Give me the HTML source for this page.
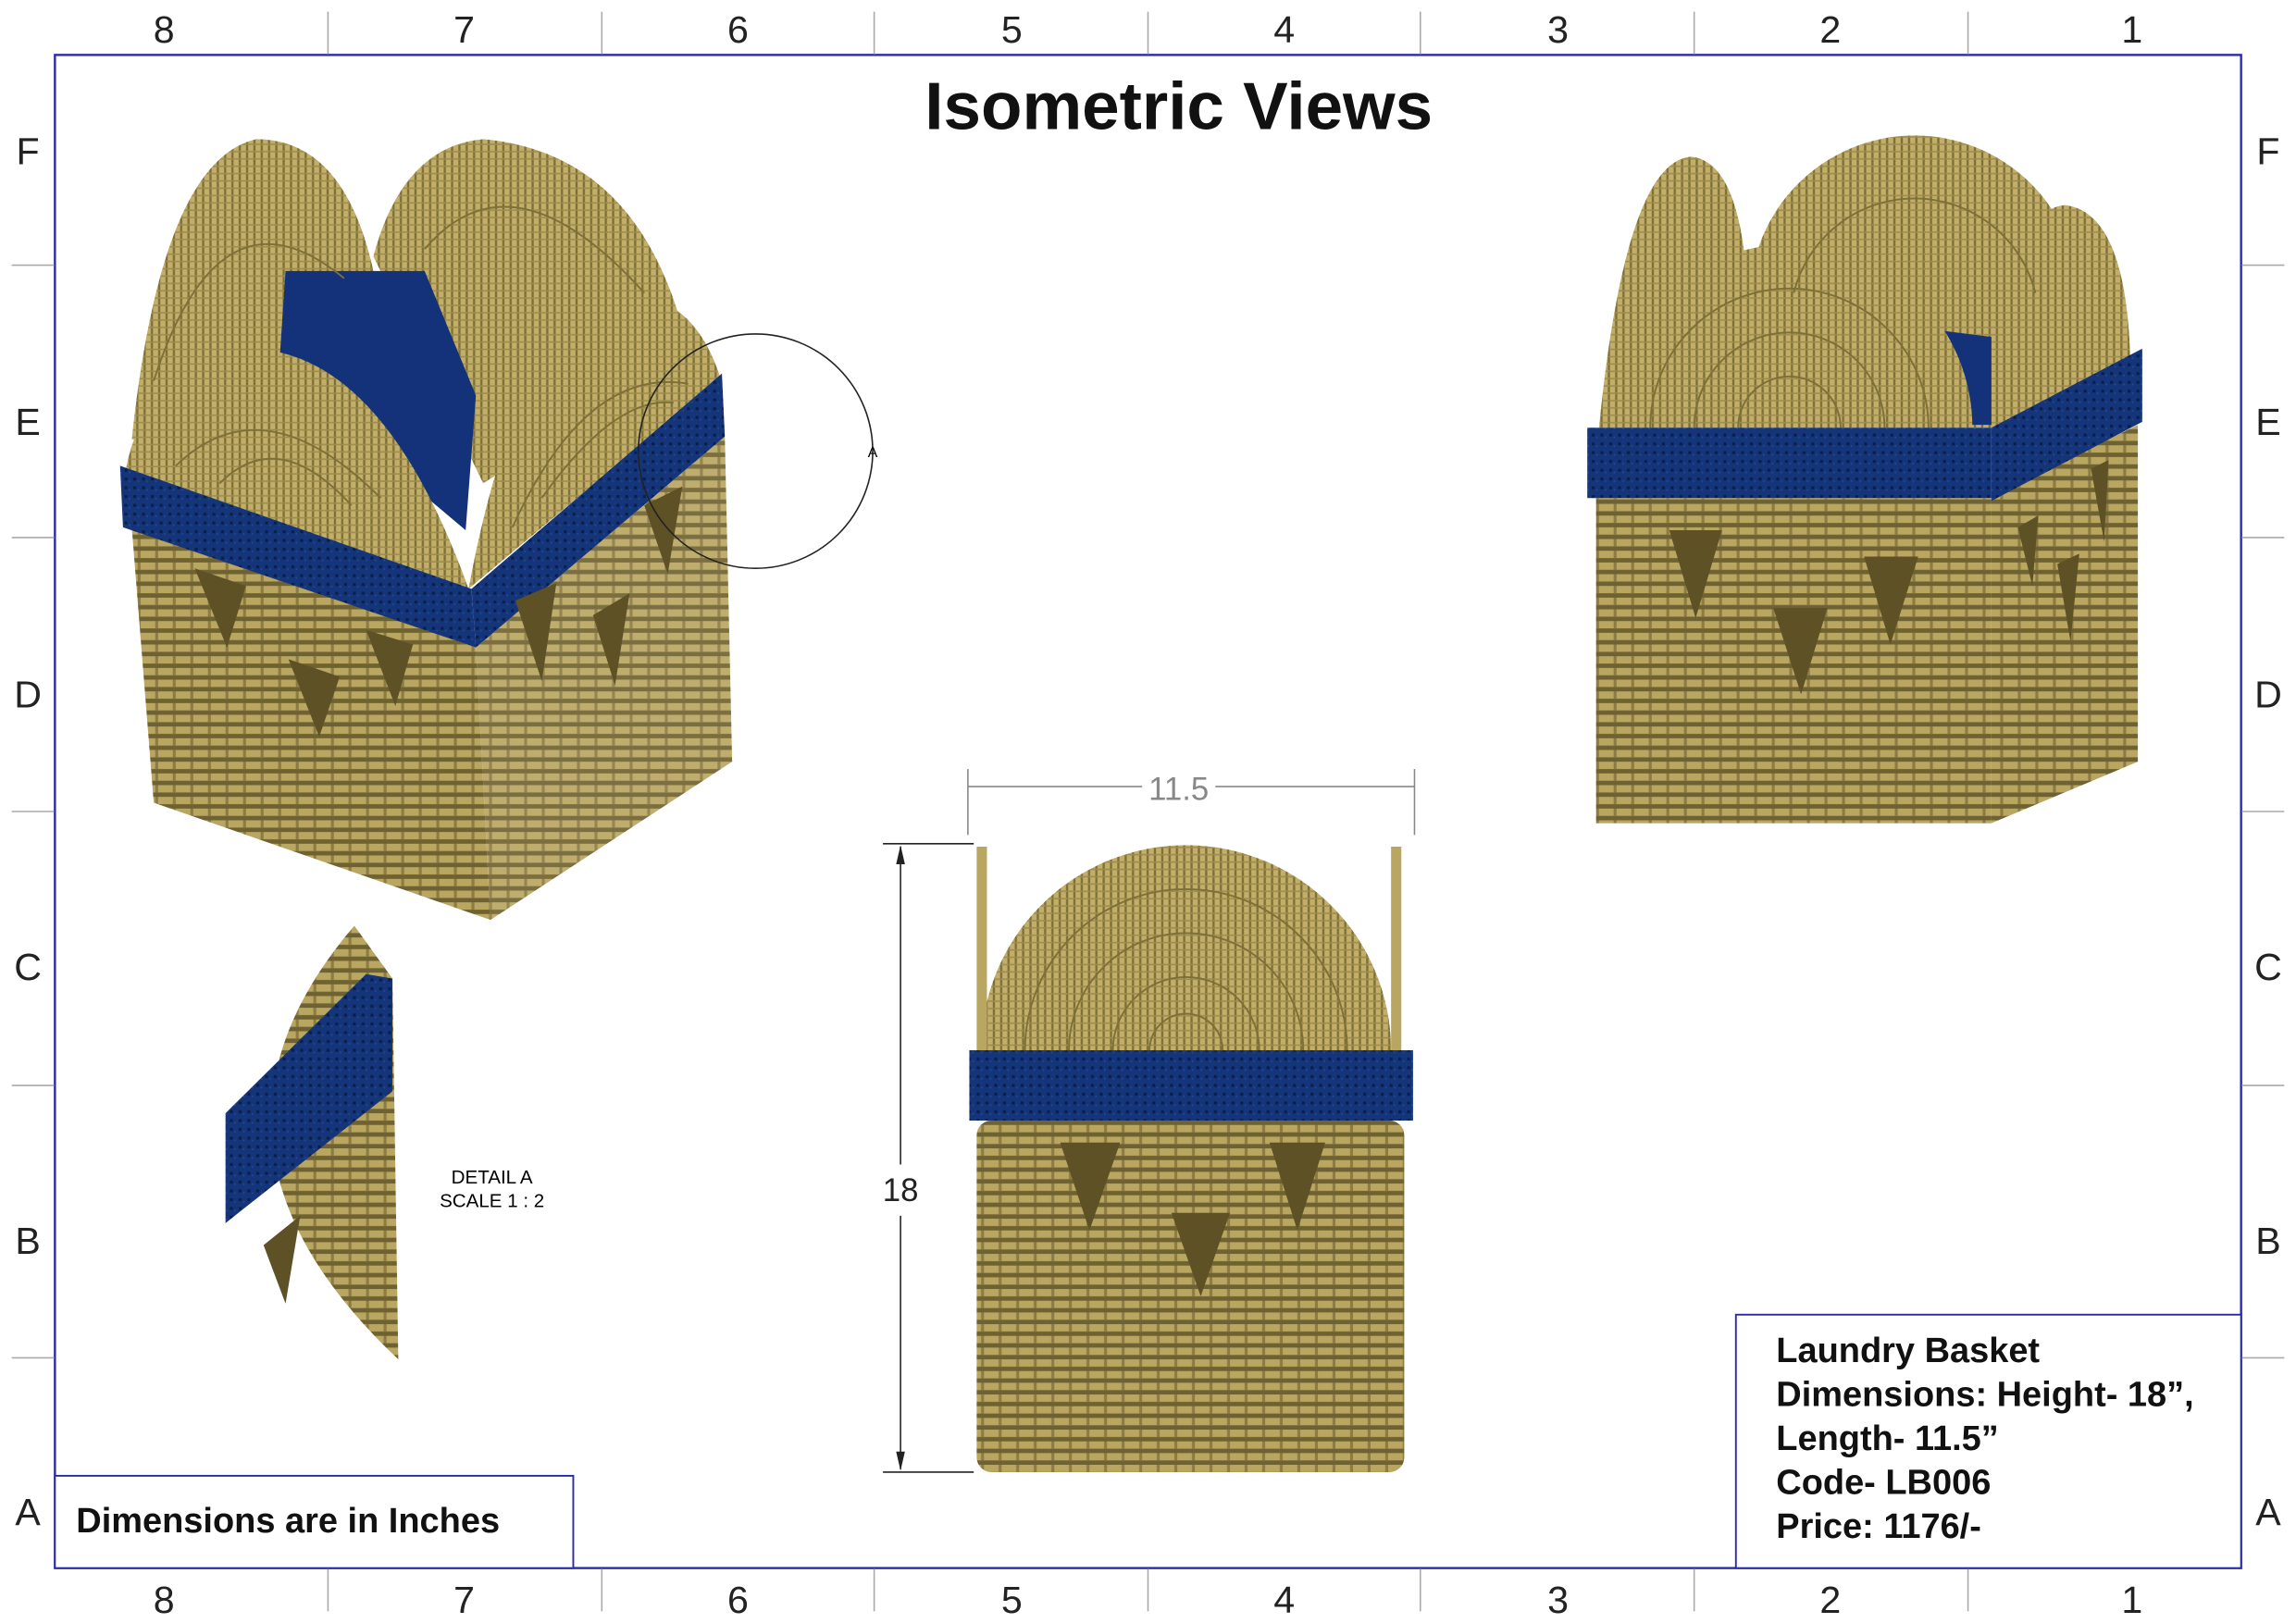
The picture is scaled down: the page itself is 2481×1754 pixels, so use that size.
<!DOCTYPE html>
<html><head><meta charset="utf-8"><style>
html,body{margin:0;padding:0;background:#fff;}
svg{display:block;}
text{font-family:"Liberation Sans",sans-serif;}
</style></head><body>
<svg width="2481" height="1754" viewBox="0 0 1568 1108" preserveAspectRatio="none" xmlns="http://www.w3.org/2000/svg">
<defs>
<pattern id="wv" width="12" height="8" patternUnits="userSpaceOnUse">
<rect width="12" height="8" fill="#b9a661"/>
<rect y="5" width="12" height="3" fill="#6f6232"/>
<rect x="10" width="2" height="5" fill="#8c7c42"/>
</pattern>
<pattern id="bl" width="6" height="6" patternUnits="userSpaceOnUse">
<rect width="6" height="6" fill="#15357a"/>
<rect x="1" y="2" width="2" height="2" fill="#0a1e4a"/>
<rect x="4" y="4" width="1" height="1" fill="#2a4b96"/>
</pattern>
<pattern id="arc" width="5" height="5" patternUnits="userSpaceOnUse">
<rect width="5" height="5" fill="#c2ae68"/>
<rect x="3" y="0" width="1.5" height="5" fill="#7d6f38"/>
<rect x="0" y="3" width="5" height="1" fill="#9d8c4c"/>
</pattern>
</defs>
<rect width="1568" height="1108" fill="#fff"/>
<!-- frame -->
<rect x="37.5" y="37.5" width="1493" height="1033" fill="none" stroke="#2a2aa8" stroke-width="1.5"/>
<g stroke="#aaa" stroke-width="1">
<line x1="224" y1="8" x2="224" y2="37"/><line x1="411" y1="8" x2="411" y2="37"/><line x1="597" y1="8" x2="597" y2="37"/><line x1="784" y1="8" x2="784" y2="37"/><line x1="970" y1="8" x2="970" y2="37"/><line x1="1157" y1="8" x2="1157" y2="37"/><line x1="1344" y1="8" x2="1344" y2="37"/>
<line x1="224" y1="1071" x2="224" y2="1100"/><line x1="411" y1="1071" x2="411" y2="1100"/><line x1="597" y1="1071" x2="597" y2="1100"/><line x1="784" y1="1071" x2="784" y2="1100"/><line x1="970" y1="1071" x2="970" y2="1100"/><line x1="1157" y1="1071" x2="1157" y2="1100"/><line x1="1344" y1="1071" x2="1344" y2="1100"/>
<line x1="8" y1="181" x2="37" y2="181"/><line x1="8" y1="367" x2="37" y2="367"/><line x1="8" y1="554" x2="37" y2="554"/><line x1="8" y1="741" x2="37" y2="741"/><line x1="8" y1="927" x2="37" y2="927"/>
<line x1="1531" y1="181" x2="1560" y2="181"/><line x1="1531" y1="367" x2="1560" y2="367"/><line x1="1531" y1="554" x2="1560" y2="554"/><line x1="1531" y1="741" x2="1560" y2="741"/><line x1="1531" y1="927" x2="1560" y2="927"/>
</g>
<g font-size="26" fill="#222" text-anchor="middle">
<text x="112" y="29">8</text><text x="317" y="29">7</text><text x="504" y="29">6</text><text x="691" y="29">5</text><text x="877" y="29">4</text><text x="1064" y="29">3</text><text x="1250" y="29">2</text><text x="1456" y="29">1</text>
<text x="112" y="1101">8</text><text x="317" y="1101">7</text><text x="504" y="1101">6</text><text x="691" y="1101">5</text><text x="877" y="1101">4</text><text x="1064" y="1101">3</text><text x="1250" y="1101">2</text><text x="1456" y="1101">1</text>
<text x="19" y="112">F</text><text x="19" y="297">E</text><text x="19" y="483">D</text><text x="19" y="669">C</text><text x="19" y="856">B</text><text x="19" y="1041">A</text>
<text x="1549" y="112">F</text><text x="1549" y="297">E</text><text x="1549" y="483">D</text><text x="1549" y="669">C</text><text x="1549" y="856">B</text><text x="1549" y="1041">A</text>
</g>
<text x="805" y="88" font-size="46" font-weight="bold" text-anchor="middle" fill="#111">Isometric Views</text>

<!-- left basket -->
<path d="M90,300 Q110,110 175,95 Q235,95 255,185 L250,300 Z" fill="url(#arc)"/>
<path d="M255,175 Q275,100 330,95 Q440,105 470,240 L330,330 Z" fill="url(#arc)"/>
<polygon points="195,185 290,185 325,270 318,362 280,330 190,260" fill="#13327a"/>
<path d="M86,320 Q100,250 165,238 Q260,235 320,402 Z" fill="url(#arc)"/>
<path d="M320,402 Q350,240 410,205 Q470,190 492,258 Z" fill="url(#arc)"/>
<g fill="none" stroke="#7d6f38" stroke-width="1.2">
<path d="M120,318 Q180,260 260,340"/><path d="M150,330 Q190,290 240,345"/><path d="M350,360 Q400,250 470,262"/><path d="M370,340 Q420,270 460,275"/>
<path d="M105,260 Q150,120 235,190"/><path d="M290,170 Q350,100 440,200"/>
</g>
<polygon points="90,360 325,442 335,628 105,548" fill="url(#wv)"/>
<polygon points="325,442 495,298 500,520 335,628" fill="url(#wv)" opacity="0.92"/>
<polygon points="82,318 322,402 325,442 84,360" fill="url(#bl)"/>
<polygon points="322,402 493,255 495,298 325,442" fill="url(#bl)"/>
<g fill="#5e5126">
<polygon points="133,388 168,400 155,442"/><polygon points="197,450 232,462 218,503"/><polygon points="250,430 282,440 270,482"/>
<polygon points="352,410 380,398 370,465"/><polygon points="405,420 430,405 420,468"/><polygon points="440,345 466,332 456,392"/>
</g>
<circle cx="516" cy="308" r="80" fill="none" stroke="#222" stroke-width="1"/>
<text x="596" y="312" font-size="10" text-anchor="middle">A</text>

<!-- detail A -->
<path d="M242,632 Q115,780 272,928 L268,668 Z" fill="url(#wv)"/>
<polygon points="154,760 250,665 268,668 268,745 154,835" fill="url(#bl)"/>
<polygon points="180,850 205,830 195,890" fill="#5e5126"/>
<text x="336" y="808" font-size="13" text-anchor="middle">DETAIL A</text>
<text x="336" y="824" font-size="13" text-anchor="middle">SCALE 1 : 2</text>

<!-- center front view -->
<path d="M670,717 A140,140 0 0 1 950,717 Z" fill="url(#arc)"/>
<g fill="none" stroke="#7d6f38" stroke-width="1.2">
<path d="M700,717 A110,110 0 0 1 920,717"/><path d="M730,717 A80,80 0 0 1 890,717"/><path d="M760,717 A50,50 0 0 1 860,717"/><path d="M785,717 A25,25 0 0 1 835,717"/>
</g>
<rect x="667" y="578" width="7" height="140" fill="#b9a661"/>
<rect x="950" y="578" width="7" height="140" fill="#b9a661"/>
<rect x="667" y="765" width="292" height="240" rx="10" fill="url(#wv)"/>
<rect x="662" y="717" width="303" height="48" fill="url(#bl)"/>
<g fill="#5e5126">
<polygon points="724,780 765,780 744,840"/><polygon points="867,780 905,780 886,840"/><polygon points="800,828 840,828 820,885"/>
</g>
<g stroke="#888" stroke-width="1" fill="none">
<line x1="661" y1="525" x2="661" y2="570"/><line x1="966" y1="525" x2="966" y2="570"/>
<line x1="661" y1="537" x2="780" y2="537"/><line x1="830" y1="537" x2="966" y2="537"/>
</g>
<text x="805" y="546" font-size="22" fill="#888" text-anchor="middle">11.5</text>
<g stroke="#222" stroke-width="1">
<line x1="603" y1="576" x2="665" y2="576"/><line x1="603" y1="1005" x2="665" y2="1005"/>
<line x1="615" y1="578" x2="615" y2="795"/><line x1="615" y1="830" x2="615" y2="1003"/>
</g>
<polygon points="615,577 612,590 618,590" fill="#222"/><polygon points="615,1004 612,991 618,991" fill="#222"/>
<text x="615" y="820" font-size="22" text-anchor="middle" fill="#222">18</text>

<!-- right basket -->
<path d="M1092,292 Q1110,110 1155,107 Q1185,110 1192,180 L1190,292 Z" fill="url(#arc)"/>
<path d="M1195,205 A112,112 0 0 1 1420,205 L1420,292 L1195,292 Z" fill="url(#arc)"/>
<polygon points="1320,225 1360,230 1360,290 1330,290" fill="#13327a"/>
<path d="M1097,292 A125,125 0 0 1 1347,292 Z" fill="url(#arc)"/>
<path d="M1360,292 Q1365,145 1410,140 Q1455,145 1455,260 Z" fill="url(#arc)"/>
<g fill="none" stroke="#7d6f38" stroke-width="1.2">
<path d="M1127,292 A95,95 0 0 1 1317,292"/><path d="M1157,292 A65,65 0 0 1 1287,292"/><path d="M1187,292 A35,35 0 0 1 1257,292"/>
<path d="M1225,200 A85,85 0 0 1 1390,200"/>
</g>
<rect x="1090" y="340" width="270" height="222" fill="url(#wv)"/>
<polygon points="1360,340 1460,290 1460,520 1360,562" fill="url(#wv)"/>
<polygon points="1084,292 1360,292 1360,340 1084,340" fill="url(#bl)"/>
<polygon points="1360,292 1463,238 1463,288 1360,342" fill="url(#bl)"/>
<g fill="#5e5126">
<polygon points="1140,362 1176,362 1158,422"/><polygon points="1211,415 1248,415 1230,474"/><polygon points="1273,380 1310,380 1291,440"/>
<polygon points="1378,360 1392,352 1388,400"/><polygon points="1405,385 1420,378 1414,438"/><polygon points="1428,320 1440,314 1437,370"/>
</g>

<!-- title block -->
<rect x="1185.5" y="897.5" width="345" height="173" fill="#fff" stroke="#2a2aa8" stroke-width="1.2"/>
<g font-size="24" font-weight="bold" fill="#111">
<text x="1213" y="930">Laundry Basket</text>
<text x="1213" y="960">Dimensions: Height- 18”,</text>
<text x="1213" y="990">Length- 11.5”</text>
<text x="1213" y="1020">Code- LB006</text>
<text x="1213" y="1050">Price: 1176/-</text>
</g>
<rect x="37.5" y="1007.5" width="354" height="63" fill="#fff" stroke="#2a2aa8" stroke-width="1.2"/>
<text x="52" y="1046" font-size="24" font-weight="bold" fill="#111">Dimensions are in Inches</text>
</svg>
</body></html>
